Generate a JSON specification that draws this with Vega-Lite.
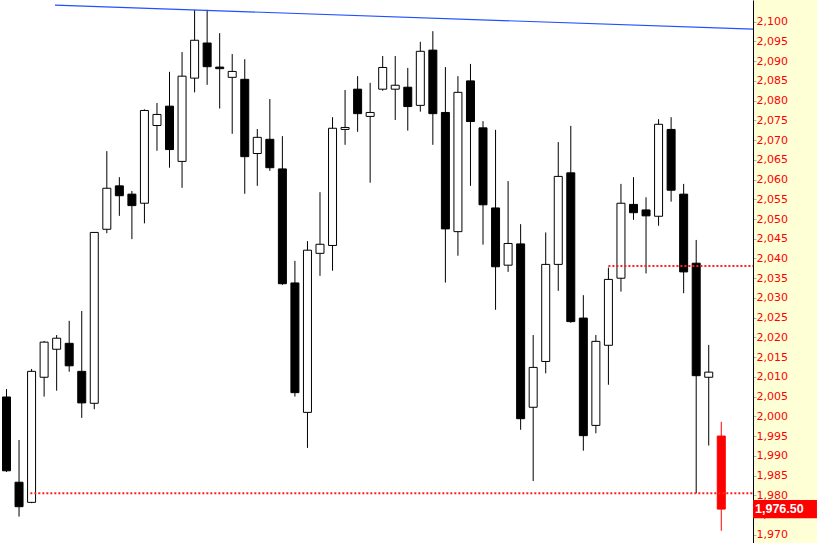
{
  "$schema": "https://vega.github.io/schema/vega-lite/v6.json",
  "width": 753,
  "height": 543,
  "autosize": {"type": "none"},
  "padding": {"left": 0, "top": 0, "right": 64, "bottom": 0},
  "background": "#ffffd6",
  "config": {
    "view": {"stroke": null, "fill": "white"},
    "scale": {"continuousPadding": 0},
    "axisY": {"grid": false, "labelColor": "#ff0000", "labelFont": "DejaVu Sans", "labelFontSize": 11, "tickColor": "#9fb3e6", "tickSize": 3, "labelPadding": 0, "domainColor": "#000000", "domainWidth": 1, "labelFlush": false, "labelOverlap": false}
  },
  "datasets": {
    "candles": [
      {"i": 0, "o": 2004.9, "h": 2006.9, "l": 1985.9, "c": 1986.2},
      {"i": 1, "o": 1983.3, "h": 1994.0, "l": 1974.6, "c": 1977.1},
      {"i": 2, "o": 1978.2, "h": 2012.0, "l": 1978.0, "c": 2011.4},
      {"i": 3, "o": 2009.9, "h": 2019.1, "l": 2005.0, "c": 2018.8},
      {"i": 4, "o": 2017.0, "h": 2020.6, "l": 2006.5, "c": 2019.8},
      {"i": 5, "o": 2018.5, "h": 2024.2, "l": 2011.3, "c": 2012.8},
      {"i": 6, "o": 2011.4, "h": 2026.7, "l": 1999.6, "c": 2003.4},
      {"i": 7, "o": 2003.3, "h": 2046.7, "l": 2001.8, "c": 2046.6},
      {"i": 8, "o": 2047.4, "h": 2067.2, "l": 2046.4, "c": 2057.8},
      {"i": 9, "o": 2058.4, "h": 2060.6, "l": 2050.8, "c": 2055.9},
      {"i": 10, "o": 2056.3, "h": 2057.1, "l": 2044.9, "c": 2053.4},
      {"i": 11, "o": 2054.0, "h": 2077.8, "l": 2048.9, "c": 2077.5},
      {"i": 12, "o": 2073.7, "h": 2079.4, "l": 2067.3, "c": 2076.5},
      {"i": 13, "o": 2078.6, "h": 2087.3, "l": 2063.0, "c": 2067.6},
      {"i": 14, "o": 2064.6, "h": 2092.3, "l": 2057.9, "c": 2086.2},
      {"i": 15, "o": 2085.7, "h": 2103.0, "l": 2082.1, "c": 2095.3},
      {"i": 16, "o": 2094.6, "h": 2103.0, "l": 2084.0, "c": 2088.6},
      {"i": 17, "o": 2088.5, "h": 2097.1, "l": 2078.0, "c": 2088.1},
      {"i": 18, "o": 2085.9, "h": 2091.8, "l": 2071.6, "c": 2087.4},
      {"i": 19, "o": 2085.4, "h": 2090.5, "l": 2056.4, "c": 2065.8},
      {"i": 20, "o": 2066.6, "h": 2072.8, "l": 2058.4, "c": 2070.7},
      {"i": 21, "o": 2070.2, "h": 2080.4, "l": 2062.2, "c": 2063.0},
      {"i": 22, "o": 2062.7, "h": 2071.0, "l": 2033.3, "c": 2033.6},
      {"i": 23, "o": 2033.8, "h": 2039.4, "l": 2005.0, "c": 2006.0},
      {"i": 24, "o": 2001.0, "h": 2044.4, "l": 1992.0, "c": 2042.1},
      {"i": 25, "o": 2041.3, "h": 2056.8, "l": 2035.6, "c": 2043.6},
      {"i": 26, "o": 2043.3, "h": 2075.8, "l": 2036.9, "c": 2073.0},
      {"i": 27, "o": 2072.7, "h": 2082.7, "l": 2068.8, "c": 2073.2},
      {"i": 28, "o": 2082.9, "h": 2086.2, "l": 2072.1, "c": 2076.7},
      {"i": 29, "o": 2076.0, "h": 2084.5, "l": 2059.2, "c": 2077.0},
      {"i": 30, "o": 2082.9, "h": 2091.3, "l": 2082.5, "c": 2088.4},
      {"i": 31, "o": 2082.9, "h": 2091.3, "l": 2075.1, "c": 2083.9},
      {"i": 32, "o": 2083.4, "h": 2088.3, "l": 2072.4, "c": 2078.5},
      {"i": 33, "o": 2078.8, "h": 2094.9, "l": 2077.2, "c": 2092.5},
      {"i": 34, "o": 2092.8, "h": 2097.6, "l": 2068.8, "c": 2076.7},
      {"i": 35, "o": 2077.0, "h": 2088.5, "l": 2033.9, "c": 2047.5},
      {"i": 36, "o": 2046.8, "h": 2086.2, "l": 2040.7, "c": 2082.1},
      {"i": 37, "o": 2085.0, "h": 2089.3, "l": 2058.4, "c": 2074.7},
      {"i": 38, "o": 2073.1, "h": 2074.8, "l": 2043.5, "c": 2053.6},
      {"i": 39, "o": 2052.8, "h": 2072.6, "l": 2027.0, "c": 2037.9},
      {"i": 40, "o": 2038.3, "h": 2059.6, "l": 2036.6, "c": 2043.8},
      {"i": 41, "o": 2043.7, "h": 2048.7, "l": 1996.6, "c": 1999.4},
      {"i": 42, "o": 2002.3, "h": 2020.6, "l": 1983.6, "c": 2012.4},
      {"i": 43, "o": 2013.9, "h": 2046.6, "l": 2010.9, "c": 2038.5},
      {"i": 44, "o": 2038.5, "h": 2069.5, "l": 2031.8, "c": 2060.8},
      {"i": 45, "o": 2061.7, "h": 2073.6, "l": 2023.7, "c": 2024.0},
      {"i": 46, "o": 2024.9, "h": 2030.7, "l": 1991.3, "c": 1995.1},
      {"i": 47, "o": 1997.7, "h": 2020.6, "l": 1995.7, "c": 2019.0},
      {"i": 48, "o": 2018.0, "h": 2037.7, "l": 2008.0, "c": 2034.7},
      {"i": 49, "o": 2035.0, "h": 2058.9, "l": 2031.6, "c": 2054.0},
      {"i": 50, "o": 2053.7, "h": 2060.6, "l": 2049.8, "c": 2051.6},
      {"i": 51, "o": 2052.3, "h": 2055.5, "l": 2036.2, "c": 2050.8},
      {"i": 52, "o": 2050.7, "h": 2075.3, "l": 2048.3, "c": 2074.0},
      {"i": 53, "o": 2072.7, "h": 2075.8, "l": 2054.4, "c": 2057.3},
      {"i": 54, "o": 2056.3, "h": 2058.9, "l": 2031.2, "c": 2036.6},
      {"i": 55, "o": 2038.8, "h": 2044.7, "l": 1980.5, "c": 2010.3},
      {"i": 56, "o": 2009.9, "h": 2018.1, "l": 1992.6, "c": 2011.2},
      {"i": 57, "o": 1995.0, "h": 1998.6, "l": 1971.0, "c": 1976.5}
    ],
    "trend": [{"x1": 3.87, "y1": 2104.2, "x2": 59.53, "y2": 2098.1}],
    "levels": [
      {"x1": 1.9, "x2": 59.53, "y": 1980.5},
      {"x1": 48.0, "x2": 59.53, "y": 2038.1}
    ],
    "price": [{"x1": 59.53, "x2": 64.63, "xt": 59.69, "lo": 1974.15, "hi": 1978.8, "p": 1976.5, "label": "1,976.50"}]
  },
  "layer": [
    {
      "data": {"name": "candles"},
      "mark": {"type": "rule", "strokeWidth": 1},
      "encoding": {
        "x": {"field": "i", "type": "quantitative", "scale": {"domain": [-0.518, 59.53], "nice": false, "zero": false, "padding": 0}, "axis": null},
        "y": {
          "field": "l", "type": "quantitative",
          "scale": {"domain": [1967.9, 2105.5], "nice": false, "zero": false, "padding": 0},
          "axis": {"orient": "right", "title": null, "format": ",", "values": [1970,1975,1980,1985,1990,1995,2000,2005,2010,2015,2020,2025,2030,2035,2040,2045,2050,2055,2060,2065,2070,2075,2080,2085,2090,2095,2100]}
        },
        "y2": {"field": "h"},
        "color": {"condition": {"test": "datum.i == 57", "value": "#ff0000"}, "value": "#000000"}
      }
    },
    {
      "data": {"name": "candles"},
      "mark": {"type": "bar", "width": 8, "strokeWidth": 1},
      "encoding": {
        "x": {"field": "i", "type": "quantitative", "axis": null},
        "y": {"field": "o", "type": "quantitative", "axis": {"orient": "right", "title": null, "format": ",", "values": [1970,1975,1980,1985,1990,1995,2000,2005,2010,2015,2020,2025,2030,2035,2040,2045,2050,2055,2060,2065,2070,2075,2080,2085,2090,2095,2100]}},
        "y2": {"field": "c"},
        "fill": {"condition": [{"test": "datum.i == 57", "value": "#ff0000"}, {"test": "datum.c < datum.o", "value": "#000000"}], "value": "#ffffff"},
        "stroke": {"condition": {"test": "datum.i == 57", "value": "#ff0000"}, "value": "#000000"}
      }
    },
    {
      "data": {"name": "trend"},
      "mark": {"type": "rule", "strokeWidth": 1.2, "color": "#2050ff"},
      "encoding": {
        "x": {"field": "x1", "type": "quantitative", "axis": null},
        "x2": {"field": "x2"},
        "y": {"field": "y1", "type": "quantitative", "axis": {"orient": "right", "title": null, "format": ",", "values": [1970,1975,1980,1985,1990,1995,2000,2005,2010,2015,2020,2025,2030,2035,2040,2045,2050,2055,2060,2065,2070,2075,2080,2085,2090,2095,2100]}},
        "y2": {"field": "y2"}
      }
    },
    {
      "data": {"name": "levels"},
      "mark": {"type": "rule", "strokeWidth": 2, "strokeDash": [2, 2], "color": "#ff2020"},
      "encoding": {
        "x": {"field": "x1", "type": "quantitative", "axis": null},
        "x2": {"field": "x2"},
        "y": {"field": "y", "type": "quantitative", "axis": {"orient": "right", "title": null, "format": ",", "values": [1970,1975,1980,1985,1990,1995,2000,2005,2010,2015,2020,2025,2030,2035,2040,2045,2050,2055,2060,2065,2070,2075,2080,2085,2090,2095,2100]}}
      }
    },
    {
      "data": {"name": "price"},
      "mark": {"type": "rect", "color": "#ff0000", "clip": false},
      "encoding": {
        "x": {"field": "x1", "type": "quantitative", "axis": null},
        "x2": {"field": "x2"},
        "y": {"field": "lo", "type": "quantitative", "axis": {"orient": "right", "title": null, "format": ",", "values": [1970,1975,1980,1985,1990,1995,2000,2005,2010,2015,2020,2025,2030,2035,2040,2045,2050,2055,2060,2065,2070,2075,2080,2085,2090,2095,2100]}},
        "y2": {"field": "hi"}
      }
    },
    {
      "data": {"name": "price"},
      "mark": {"type": "text", "color": "#ffffff", "font": "Liberation Sans", "fontSize": 12.5, "fontWeight": "bold", "align": "left", "baseline": "middle", "clip": false},
      "encoding": {
        "x": {"field": "xt", "type": "quantitative", "axis": null},
        "y": {"field": "p", "type": "quantitative", "axis": {"orient": "right", "title": null, "format": ",", "values": [1970,1975,1980,1985,1990,1995,2000,2005,2010,2015,2020,2025,2030,2035,2040,2045,2050,2055,2060,2065,2070,2075,2080,2085,2090,2095,2100]}},
        "text": {"field": "label"}
      }
    }
  ]
}
